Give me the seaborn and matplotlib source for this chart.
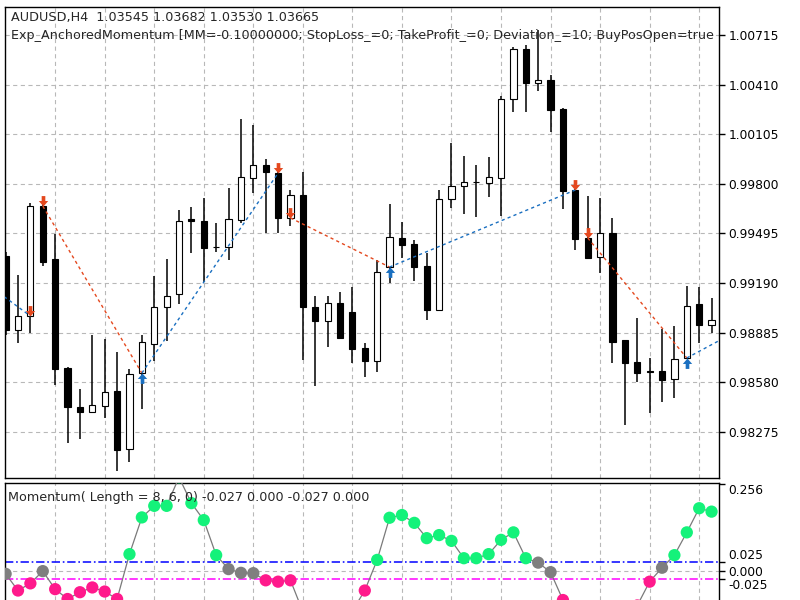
import numpy as np
import pandas as pd
import matplotlib
matplotlib.use("Agg")
import matplotlib.pyplot as plt
from matplotlib.path import Path
import seaborn as sns

# ---------------- data ----------------
opens = [0.99356, 0.98901, 0.98987, 0.99663, 0.99337, 0.98667, 0.98427, 0.98396, 0.98433, 0.98526,
         0.98169, 0.98636, 0.98815, 0.99042, 0.99122, 0.99583, 0.99571, 0.99411, 0.99411, 0.99577,
         0.99836, 0.99916, 0.99866, 0.99590, 0.99731, 0.99042, 0.98956, 0.99067, 0.99012, 0.98790,
         0.98710, 0.99288, 0.99467, 0.99430, 0.99294, 0.99024, 0.99706, 0.99786, 0.99811, 0.99805,
         0.99836, 1.00321, 1.00629, 1.00420, 1.00438, 1.00260, 0.99762, 0.99467, 0.99350, 0.99497,
         0.98839, 0.98704, 0.98649, 0.98649, 0.98599, 0.98729, 0.99061, 0.98932]
highs = [0.99380, 0.99239, 0.99682, 0.99676, 0.99491, 0.98673, 0.98538, 0.98870, 0.98845, 0.98765,
         0.98661, 0.98870, 0.99233, 0.99337, 0.99639, 0.99657, 0.99713, 0.99559, 0.99774, 1.00198,
         1.00162, 0.99952, 0.99885, 0.99762, 0.99872, 0.99110, 0.99110, 0.99134, 0.99165, 0.98821,
         0.99331, 0.99676, 0.99565, 0.99454, 0.99374, 0.99762, 1.00051, 0.99971, 0.99916, 0.99965,
         1.00340, 1.00641, 1.00654, 1.00746, 1.00469, 1.00266, 0.99768, 0.99725, 0.99713, 0.99590,
         0.98839, 0.98975, 0.98729, 0.98907, 0.98925, 0.99171, 0.99165, 0.99098]
lows = [0.98870, 0.98821, 0.98882, 0.99294, 0.98563, 0.98206, 0.98230, 0.98396, 0.98360, 0.98034,
        0.98089, 0.98415, 0.98710, 0.98833, 0.99061, 0.99374, 0.99196, 0.99380, 0.99331, 0.99559,
        0.99743, 0.99497, 0.99497, 0.99540, 0.98716, 0.98556, 0.98796, 0.98845, 0.98698, 0.98612,
        0.98642, 0.99190, 0.99344, 0.99202, 0.98962, 0.99024, 0.99651, 0.99614, 0.99596, 0.99719,
        0.99602, 1.00241, 1.00241, 1.00371, 1.00118, 0.99645, 0.99393, 0.99337, 0.99251, 0.98698,
        0.98317, 0.98581, 0.98390, 0.98458, 0.98483, 0.98729, 0.98821, 0.98882]
closes = [0.98901, 0.98987, 0.99663, 0.99319, 0.98661, 0.98427, 0.98396, 0.98439, 0.98519, 0.98163,
          0.98630, 0.98827, 0.99042, 0.99110, 0.99571, 0.99571, 0.99405, 0.99411, 0.99583, 0.99842,
          0.99916, 0.99872, 0.99590, 0.99731, 0.99042, 0.98956, 0.99067, 0.98852, 0.98784, 0.98710,
          0.99257, 0.99473, 0.99424, 0.99288, 0.99024, 0.99706, 0.99786, 0.99811, 0.99811, 0.99842,
          1.00321, 1.00629, 1.00420, 1.00438, 1.00254, 0.99756, 0.99460, 0.99344, 0.99497, 0.98827,
          0.98698, 0.98636, 0.98642, 0.98593, 0.98722, 0.99048, 0.98932, 0.98962]

momentum = [-0.009, -0.058, -0.037, -0.001, -0.054, -0.083, -0.063, -0.049, -0.061, -0.083,
            0.049, 0.157, 0.191, 0.191, 0.275, 0.199, 0.149, 0.046, 0.005, -0.006,
            -0.007, -0.028, -0.032, -0.028, -0.120, -0.160, -0.170, -0.150, -0.118, -0.058,
            0.032, 0.156, 0.164, 0.141, 0.096, 0.105, 0.088, 0.037, 0.037, 0.049,
            0.091, 0.113, 0.037, 0.024, -0.004, -0.086, -0.135, -0.170, -0.190, -0.200,
            -0.160, -0.102, -0.032, 0.009, 0.046, 0.113, 0.184, 0.174]
level_up = 0.025
level_dn = -0.025

sell_bars = [2, 3, 22, 23, 46, 47]
buy_bars = [11, 31, 55]

trade_start_bar = [-5, 3, 11, 23, 31, 47, 55]
trade_start_price = [0.99380, 0.99663, 0.98636, 0.99590, 0.99288, 0.99467, 0.98729]
trade_end_bar = [2, 11, 22, 31, 46, 55, 62]
trade_end_price = [0.98987, 0.98636, 0.99866, 0.99288, 0.99762, 0.98729, 0.99015]
trade_side = ["buy", "sell", "buy", "sell", "buy", "sell", "buy"]

price_ticks = [0.98275, 0.98580, 0.98885, 0.99190, 0.99495, 0.99800, 1.00105, 1.00410, 1.00715]
mom_ticks = [0.256, 0.025, 0.000, -0.025]

header1 = "AUDUSD,H4  1.03545 1.03682 1.03530 1.03665"
header2 = ("Exp_AnchoredMomentum [MM=-0.10000000; StopLoss_=0; TakeProfit_=0; "
           "Deviation_=10; BuyPosOpen=true")
mom_title = "Momentum( Length = 8, 6, 0) -0.027 0.000 -0.027 0.000"

# ---------------- style ----------------
sns.set_style("white")
plt.rcParams["font.family"] = ["DejaVu Sans"]
plt.rcParams["lines.scale_dashes"] = False
FS_T = 9.2
FS = 8.8
GRID = "#b8b8b8"
RED = "#e4481e"
BLUE = "#1a6fc0"

fig = plt.figure(figsize=(8, 6), dpi=100)
fig.patch.set_facecolor("white")
ax = fig.add_axes([5 / 800, 1 - 478 / 600, 714 / 800, 471 / 600])
ax2 = fig.add_axes([5 / 800, 0, 714 / 800, 117 / 600])

idx = np.arange(len(opens))
o = np.array(opens); c = np.array(closes); h = np.array(highs); l = np.array(lows)
bull = c >= o

xlim = (-0.05, 57.6)

# ---------------- main chart ----------------
ax.vlines(idx, l, h, color="black", lw=1.1, zorder=2)
ax.bar(idx, np.abs(c - o), bottom=np.minimum(o, c), width=0.5,
       color=np.where(bull, "white", "black"), edgecolor="black", linewidth=0.8, zorder=3)

for sb, sp, eb, ep, side in zip(trade_start_bar, trade_start_price, trade_end_bar, trade_end_price, trade_side):
    ax.plot([sb, eb], [sp, ep], color=BLUE if side == "buy" else RED, lw=1.0,
            linestyle=(0, (2.3, 2.3)), zorder=4)

down_path = Path([(-0.35, 2.0), (0.35, 2.0), (0.35, 1.05), (0.9, 1.05), (0.0, 0.0),
                  (-0.9, 1.05), (-0.35, 1.05), (-0.35, 2.0)], closed=True)
up_path = Path([(x, -y) for x, y in down_path.vertices], closed=True)
ax.plot(sell_bars, [opens[i] for i in sell_bars], linestyle="none", marker=down_path,
        ms=15, color=RED, mew=0, zorder=5)
ax.plot(buy_bars, [opens[i] for i in buy_bars], linestyle="none", marker=up_path,
        ms=15, color=BLUE, mew=0, zorder=5)

ax.set_xlim(*xlim)
ax.set_ylim(0.97991, 1.00887)
ax.set_xticks(np.arange(4, 57, 4))
ax.set_xticklabels([])
ax.tick_params(axis="x", length=0)
ax.yaxis.tick_right()
ax.set_yticks(price_ticks)
ax.set_yticklabels([f"{v:.5f}" for v in price_ticks], fontsize=FS)
ax.tick_params(axis="y", direction="out", length=4, width=1, pad=3, colors="black")
ax.grid(True, color=GRID, lw=0.8, linestyle=(0, (3, 2.5)))
for s in ax.spines.values():
    s.set_color("black"); s.set_linewidth(1.0)
ax.set_axisbelow(True)

ax.text(6 / 714, (478 - 18) / 471, header1, transform=ax.transAxes, fontsize=FS_T,
        va="center", ha="left", clip_on=True, zorder=6)
ax.text(6 / 714, (478 - 36) / 471, header2, transform=ax.transAxes, fontsize=FS_T,
        va="center", ha="left", clip_on=True, zorder=6)

# ---------------- momentum panel ----------------
mom = np.array(momentum)
cat = np.where(mom > level_up, "up", np.where(mom < level_dn, "down", "flat"))
df = pd.DataFrame({"bar": idx, "mom": mom, "state": cat})

ax2.axhline(0.0, color=GRID, lw=0.8, linestyle=(0, (3, 2.5)), zorder=1)
ax2.axhline(level_up, color="#0000ff", lw=1.1, linestyle=(0, (6, 2, 1.2, 2)), zorder=2)
ax2.axhline(level_dn, color="#ff00ff", lw=1.1, linestyle=(0, (6, 2, 1.2, 2)), zorder=2)
sns.lineplot(data=df, x="bar", y="mom", ax=ax2, color="#7a7a7a", lw=0.9, zorder=3)
sns.scatterplot(data=df, x="bar", y="mom", hue="state", ax=ax2, s=78, linewidth=0,
                palette={"up": "#14f27a", "down": "#ff1a8c", "flat": "#7f7f7f"},
                legend=False, zorder=4)

ax2.set_xlim(*xlim)
ax2.set_ylim(-0.0859, 0.2582)
ax2.set_xticks(np.arange(4, 57, 4))
ax2.set_xticklabels([])
ax2.tick_params(axis="x", length=0)
ax2.grid(True, axis="x", color=GRID, lw=0.8, linestyle=(0, (3, 2.5)))
ax2.set_axisbelow(True)
ax2.yaxis.tick_right()
ax2.set_yticks(mom_ticks)
ax2.set_yticklabels([f"{v:.3f}" for v in mom_ticks], fontsize=FS)
ax2.tick_params(axis="y", direction="out", length=4, width=1, pad=3, colors="black")
tl = ax2.get_yticklabels()
tl[0].set_va("top")
tl[1].set_va("bottom")
tl[3].set_va("top")
ax2.set_xlabel(""); ax2.set_ylabel("")
for name, s in ax2.spines.items():
    s.set_color("black"); s.set_linewidth(1.0)
ax2.spines["bottom"].set_visible(False)

ax2.text(3 / 714, (600 - 497) / 117, mom_title, transform=ax2.transAxes, fontsize=FS_T,
         va="center", ha="left", zorder=6)

fig.savefig("out.png", dpi=100, facecolor="white")
